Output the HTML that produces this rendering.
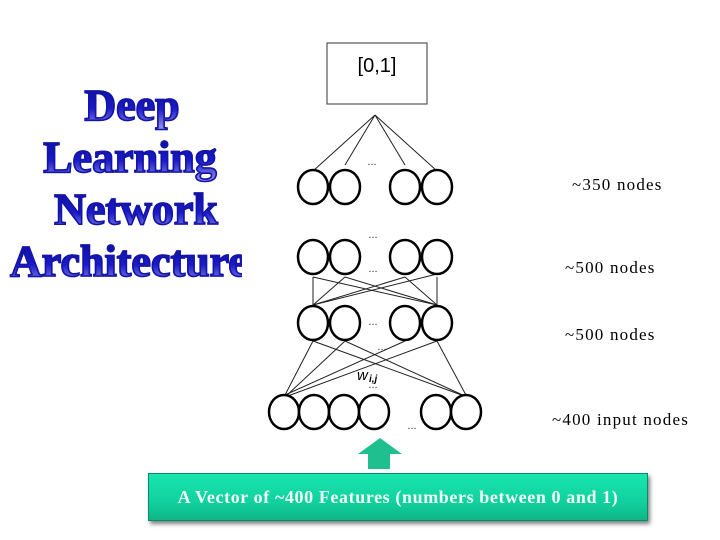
<!DOCTYPE html>
<html><head><style>
body{margin:0;width:720px;height:540px;background:#fff;position:relative;overflow:hidden;font-family:"Liberation Serif",serif}
.t{position:absolute;left:0;width:260px;text-align:center;font-weight:bold;font-size:44px;line-height:52px;
background:linear-gradient(#0c0c90 0%,#1a1ac8 55%,#a8a8ee 100%);-webkit-background-clip:text;background-clip:text;color:transparent;-webkit-text-stroke:1.6px #1414a8}
.lbl{position:absolute;font-size:17px;color:#000;letter-spacing:1.2px}
</style></head><body>
<div style="position:absolute;left:0;top:0;width:242px;height:300px;overflow:hidden">
<div class="t" style="top:80px;left:2px">Deep</div>
<div class="t" style="top:132px;left:0">Learning</div>
<div class="t" style="top:184px;left:6px">Network</div>
<div class="t" style="top:236px;width:300px;text-align:left;left:10px">Architecture</div>
</div>
<svg width="720" height="540" style="position:absolute;left:0;top:0" font-family="Liberation Sans, sans-serif">
<rect x="327" y="43" width="100" height="61" fill="#fff" stroke="#555" stroke-width="1.2"/>
<text x="377" y="72" font-size="20" text-anchor="middle">[0,1]</text>
<g stroke="#222" stroke-width="1" fill="none">
<line x1="375" y1="115" x2="313" y2="171"/><line x1="375" y1="115" x2="345" y2="165"/>
<line x1="375" y1="115" x2="405" y2="165"/><line x1="375" y1="115" x2="437" y2="171"/>
<line x1="313" y1="277" x2="313" y2="305"/><line x1="437" y1="277" x2="437" y2="305"/>
<line x1="313" y1="277" x2="437" y2="305"/><line x1="345" y1="277" x2="437" y2="305"/>
<line x1="313" y1="305" x2="405" y2="277"/><line x1="313" y1="305" x2="437" y2="274"/>
<line x1="313" y1="305" x2="345" y2="277"/><line x1="437" y1="305" x2="405" y2="277"/>
<line x1="313" y1="341" x2="285" y2="395"/><line x1="345" y1="341" x2="467" y2="397"/>
<line x1="313" y1="341" x2="467" y2="397"/><line x1="405" y1="341" x2="285" y2="395"/>
<line x1="437" y1="341" x2="285" y2="397"/><line x1="437" y1="341" x2="467" y2="397"/>
<line x1="345" y1="341" x2="285" y2="397"/>
</g>
<g stroke="#000" stroke-width="2.5" fill="#fff">
<ellipse cx="313" cy="187" rx="15" ry="17"/><ellipse cx="345" cy="187" rx="15" ry="17"/>
<ellipse cx="405" cy="187" rx="15" ry="17"/><ellipse cx="437" cy="187" rx="15" ry="17"/>
<ellipse cx="313" cy="257" rx="15" ry="17"/><ellipse cx="345" cy="257" rx="15" ry="17"/>
<ellipse cx="405" cy="257" rx="15" ry="17"/><ellipse cx="437" cy="257" rx="15" ry="17"/>
<ellipse cx="313" cy="323" rx="15" ry="17"/><ellipse cx="345" cy="323" rx="15" ry="17"/>
<ellipse cx="405" cy="323" rx="15" ry="17"/><ellipse cx="437" cy="323" rx="15" ry="17"/>
<ellipse cx="284" cy="412" rx="15" ry="17"/><ellipse cx="314" cy="412" rx="15" ry="17"/>
<ellipse cx="344" cy="412" rx="15" ry="17"/><ellipse cx="374" cy="412" rx="15" ry="17"/>
<ellipse cx="436" cy="412" rx="15" ry="17"/><ellipse cx="466" cy="412" rx="15" ry="17"/>
</g>
<g font-size="11" text-anchor="middle" fill="#333">
<text x="372" y="165">...</text><text x="373" y="238">...</text><text x="373" y="272">...</text>
<text x="373" y="325">...</text><text x="382" y="350">...</text><text x="412" y="429">...</text><text x="373" y="388">...</text>
</g>
<text x="357" y="380" font-size="15" font-style="italic">w</text><text x="369" y="382" font-size="10" font-style="italic" font-weight="bold">i,j</text>
<polygon points="380,438 402,454 390,454 390,469 368,469 368,454 358,454" fill="#1fbf8f"/>
</svg>
<div class="lbl" style="left:572px;top:175px">~350 nodes</div>
<div class="lbl" style="left:565px;top:258px">~500 nodes</div>
<div class="lbl" style="left:565px;top:325px">~500 nodes</div>
<div class="lbl" style="left:552px;top:410px">~400 input nodes</div>
<div style="position:absolute;left:148px;top:473px;width:500px;height:48px;background:linear-gradient(#17e6b0,#12d19e 60%,#0fb587);box-shadow:2px 3px 4px rgba(0,0,0,.5);border:1px solid #0a8a66;box-sizing:border-box;color:#f2fff8;font-weight:bold;font-size:18px;letter-spacing:0.6px;text-align:center;line-height:46px;white-space:nowrap">A Vector of ~400 Features (numbers between 0 and 1)</div>
</body></html>
